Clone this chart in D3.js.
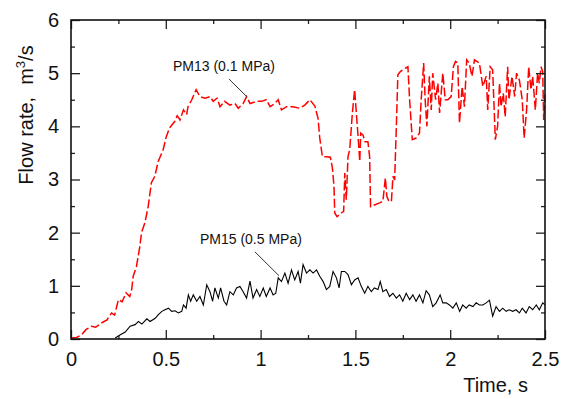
<!DOCTYPE html>
<html>
<head>
<meta charset="utf-8">
<script src="https://cdn.jsdelivr.net/npm/d3@7"></script>
<style>
  html, body { margin: 0; padding: 0; background: #fff; overflow: hidden; }
  svg { display: block; }
  text { font-family: "Liberation Sans", Arial, sans-serif; fill: #111; }
</style>
</head>
<body>
<div id="chart"></div>
<script>
// PM13 (0.1 MPa) - red dashed
var pm13Time = [0, 0.03, 0.056, 0.08, 0.108, 0.13, 0.16, 0.19, 0.214, 0.23, 0.25, 0.27, 0.29, 0.31, 0.32, 0.328,
  0.345, 0.363, 0.372, 0.39, 0.407, 0.424, 0.442, 0.46, 0.486, 0.503, 0.52, 0.547, 0.56, 0.575, 0.593, 0.61,
  0.617, 0.637, 0.66, 0.68, 0.707, 0.733, 0.75, 0.77, 0.786, 0.81, 0.838, 0.865, 0.882, 0.908, 0.926, 0.944,
  0.979, 1.005, 1.03, 1.05, 1.075, 1.093, 1.11, 1.137, 1.17, 1.207, 1.233, 1.26, 1.286, 1.303, 1.312, 1.326,
  1.347, 1.368, 1.379, 1.387, 1.391, 1.403, 1.426, 1.438, 1.444, 1.452, 1.461, 1.47, 1.484, 1.496, 1.505,
  1.514, 1.523, 1.528, 1.54, 1.55, 1.566, 1.575, 1.58, 1.6, 1.628, 1.645, 1.658, 1.666, 1.677, 1.69, 1.698,
  1.707, 1.716, 1.724, 1.737, 1.76, 1.777, 1.786, 1.8, 1.82, 1.838, 1.847, 1.86, 1.868, 1.877, 1.89, 1.9,
  1.908, 1.923, 1.935, 1.944, 1.961, 1.974, 1.987, 2.005, 2.017, 2.028, 2.04, 2.049, 2.063, 2.075, 2.087,
  2.1, 2.115, 2.128, 2.154, 2.172, 2.19, 2.198, 2.211, 2.224, 2.238, 2.25, 2.26, 2.268, 2.28, 2.29, 2.303,
  2.31, 2.326, 2.34, 2.35, 2.365, 2.38, 2.39, 2.403, 2.414, 2.426, 2.435, 2.449, 2.461, 2.47, 2.479, 2.488,
  2.493, 2.5]
var pm13Flow = [0.02, 0.03, 0.08, 0.18, 0.24, 0.22, 0.30, 0.36, 0.49, 0.45, 0.74, 0.70, 0.87, 0.80, 0.93, 1.18,
  1.36, 1.74, 2.0, 2.19, 2.49, 2.94, 3.06, 3.34, 3.56, 3.81, 3.97, 4.09, 4.2, 4.12, 4.31, 4.22,
  4.37, 4.5, 4.69, 4.56, 4.53, 4.56, 4.47, 4.53, 4.37, 4.47, 4.40, 4.43, 4.34, 4.43, 4.56, 4.43,
  4.47, 4.47, 4.5, 4.37, 4.43, 4.5, 4.31, 4.37, 4.37, 4.34, 4.40, 4.5, 4.38, 4.15, 3.78, 3.43,
  3.43, 3.42, 3.21, 2.87, 2.37, 2.30, 2.37, 2.40, 3.12, 2.62, 3.43, 3.56, 4.25, 4.69, 4.25,
  3.81, 3.34, 3.87, 3.84, 3.71, 3.71, 3.43, 2.49, 2.52, 2.56, 2.59, 3.03, 2.68, 2.59, 2.59, 3.06,
  2.99, 4.0, 4.97, 5.03, 5.09, 5.12, 4.5, 3.75, 3.78, 3.87, 4.5, 5.19, 4.5, 4.0, 4.94, 4.31,
  5.0, 4.5, 4.81, 4.25, 5.0, 4.5, 4.5, 4.56, 5.12, 5.22, 5.19, 4.06, 4.75, 4.37, 5.25,
  5.19, 4.94, 5.25, 5.19, 4.75, 4.94, 4.31, 5.12, 5.06, 3.75, 4.0, 4.81, 4.37, 4.62, 4.18, 5.12,
  4.5, 4.94, 4.56, 5.0, 4.87, 4.5, 3.78, 4.31, 5.12, 4.69, 4.94, 4.31, 5.0, 4.81, 5.12, 5.03,
  4.12, 4.6]

// PM15 (0.5 MPa) - black solid
var pm15Time = [0.233, 0.26, 0.286, 0.312, 0.338, 0.356, 0.374, 0.4, 0.417, 0.444, 0.461, 0.479, 0.496, 0.514,
  0.531, 0.549, 0.566, 0.584, 0.593, 0.607, 0.619, 0.631, 0.645, 0.663, 0.68, 0.698, 0.716, 0.733, 0.747,
  0.759, 0.777, 0.789, 0.807, 0.821, 0.838, 0.856, 0.873, 0.891, 0.908, 0.926, 0.944, 0.96, 0.979, 0.996,
  1.014, 1.03, 1.05, 1.066, 1.08, 1.093, 1.11, 1.128, 1.145, 1.163, 1.18, 1.198, 1.21, 1.224, 1.242, 1.26,
  1.277, 1.295, 1.312, 1.33, 1.347, 1.365, 1.382, 1.4, 1.414, 1.426, 1.444, 1.461, 1.479, 1.496, 1.514,
  1.531, 1.549, 1.566, 1.584, 1.6, 1.619, 1.631, 1.645, 1.663, 1.68, 1.698, 1.716, 1.733, 1.75, 1.768,
  1.786, 1.803, 1.82, 1.838, 1.856, 1.873, 1.89, 1.908, 1.926, 1.947, 1.961, 1.979, 1.996, 2.014, 2.032,
  2.05, 2.066, 2.084, 2.1, 2.12, 2.137, 2.154, 2.172, 2.19, 2.207, 2.224, 2.242, 2.26, 2.277, 2.295, 2.31,
  2.33, 2.347, 2.365, 2.38, 2.4, 2.417, 2.435, 2.454, 2.47, 2.488, 2.5]
var pm15Flow = [0.02, 0.08, 0.13, 0.24, 0.27, 0.33, 0.28, 0.38, 0.33, 0.39, 0.46, 0.52, 0.55, 0.58,
  0.52, 0.53, 0.49, 0.52, 0.64, 0.58, 0.83, 0.71, 0.83, 0.71, 0.80, 0.64, 1.02, 0.89, 0.71,
  0.96, 0.77, 0.96, 0.71, 0.64, 0.89, 0.83, 0.96, 0.99, 0.89, 0.77, 1.09, 0.77, 0.93, 0.80,
  0.96, 0.80, 0.96, 0.83, 0.86, 1.15, 1.08, 1.24, 1.05, 1.30, 1.11, 1.27, 1.05, 1.40, 1.24, 1.30,
  1.24, 1.30, 1.18, 1.08, 0.93, 0.99, 1.27, 1.15, 0.96, 1.27, 1.27, 1.21, 1.02, 1.11, 1.15,
  0.99, 0.86, 0.99, 0.89, 0.96, 0.93, 1.08, 0.89, 0.93, 0.80, 0.86, 0.77, 0.83, 0.71, 0.86,
  0.74, 0.83, 0.71, 0.83, 0.68, 0.91, 0.83, 0.61, 0.68, 0.83, 0.68, 0.68, 0.64, 0.58, 0.68,
  0.52, 0.64, 0.58, 0.64, 0.61, 0.68, 0.64, 0.64, 0.68, 0.73, 0.43, 0.61, 0.52, 0.58, 0.52, 0.55,
  0.52, 0.55, 0.49, 0.58, 0.49, 0.61, 0.55, 0.64, 0.55, 0.68, 0.64]

var xTicks = [0, 0.5, 1, 1.5, 2, 2.5]
var xMinor = [0.25, 0.75, 1.25, 1.75, 2.25]
var yTicks = [0, 1, 2, 3, 4, 5, 6]
var yMinor = [0.5, 1.5, 2.5, 3.5, 4.5, 5.5]

var width = 567
var height = 399
var margin = { top: 20, right: 22, bottom: 60, left: 71 }
var innerWidth = width - margin.left - margin.right
var innerHeight = height - margin.top - margin.bottom

var svg = d3.select('#chart').append('svg')
  .attr('width', width)
  .attr('height', height)

var g = svg.append('g')
  .attr('transform', 'translate(' + margin.left + ',' + margin.top + ')')

var x = d3.scaleLinear().domain([0, 2.5]).range([0, innerWidth])
var y = d3.scaleLinear().domain([0, 6]).range([innerHeight, 0])

var line = d3.line()
  .x(d => x(d[0]))
  .y(d => y(d[1]))

var pm13 = pm13Time.map((t, i) => [t, pm13Flow[i]])
var pm15 = pm15Time.map((t, i) => [t, pm15Flow[i]])

g.append('path')
  .datum(pm15)
  .attr('d', line)
  .attr('fill', 'none')
  .attr('stroke', '#000')
  .attr('stroke-width', 1.1)

g.append('path')
  .datum(pm13)
  .attr('d', line)
  .attr('fill', 'none')
  .attr('stroke', '#ff0000')
  .attr('stroke-width', 1.5)
  .attr('stroke-dasharray', '9,3')

// axes: ticks pointing inward, minor ticks shorter
function styleAxis (sel) {
  sel.select('.domain').remove()
  sel.selectAll('.tick line').attr('stroke', '#222').attr('stroke-width', 1.3)
  sel.selectAll('text').style('font-size', '20px').attr('fill', '#111')
}
// ticks only, no labels
function bareAxis (sel) {
  styleAxis(sel)
  sel.selectAll('text').remove()
}

g.append('g').attr('transform', 'translate(0,' + innerHeight + ')')
  .call(d3.axisBottom(x).tickValues(xTicks).tickFormat(d3.format('')).tickSizeInner(-9).tickSizeOuter(0).tickPadding(13))
  .call(styleAxis)
g.append('g').attr('transform', 'translate(0,' + innerHeight + ')')
  .call(d3.axisBottom(x).tickValues(xMinor).tickSizeInner(-4).tickSizeOuter(0))
  .call(bareAxis)
g.append('g')
  .call(d3.axisTop(x).tickValues(xTicks).tickSizeInner(-9).tickSizeOuter(0))
  .call(bareAxis)
g.append('g')
  .call(d3.axisTop(x).tickValues(xMinor).tickSizeInner(-4).tickSizeOuter(0))
  .call(bareAxis)

g.append('g')
  .call(d3.axisLeft(y).tickValues(yTicks).tickFormat(d3.format('')).tickSizeInner(-9).tickSizeOuter(0).tickPadding(12))
  .call(styleAxis)
g.append('g')
  .call(d3.axisLeft(y).tickValues(yMinor).tickSizeInner(-4).tickSizeOuter(0))
  .call(bareAxis)
g.append('g').attr('transform', 'translate(' + innerWidth + ',0)')
  .call(d3.axisRight(y).tickValues(yTicks).tickSizeInner(-9).tickSizeOuter(0))
  .call(bareAxis)
g.append('g').attr('transform', 'translate(' + innerWidth + ',0)')
  .call(d3.axisRight(y).tickValues(yMinor).tickSizeInner(-4).tickSizeOuter(0))
  .call(bareAxis)

// frame
g.append('rect')
  .attr('width', innerWidth)
  .attr('height', innerHeight)
  .attr('fill', 'none')
  .attr('stroke', '#111')
  .attr('stroke-width', 1.6)

// axis titles
svg.append('text')
  .attr('x', 528)
  .attr('y', 392)
  .attr('text-anchor', 'end')
  .style('font-size', '20px')
  .text('Time, s')

var yTitle = svg.append('text')
  .attr('transform', 'translate(33,115) rotate(-90)')
  .attr('text-anchor', 'middle')
  .style('font-size', '20px')
yTitle.append('tspan').text('Flow rate,')
yTitle.append('tspan').attr('dx', 12).text('m')
yTitle.append('tspan').attr('dy', -8).style('font-size', '13px').text('3')
yTitle.append('tspan').attr('dy', 8).text('/s')

// annotations
g.append('text')
  .attr('x', x(0.538))
  .attr('y', y(5.04))
  .style('font-size', '14px')
  .text('PM13 (0.1 MPa)')
g.append('line')
  .attr('x1', x(0.833)).attr('y1', y(4.89))
  .attr('x2', x(0.928)).attr('y2', y(4.555))
  .attr('stroke', '#333').attr('stroke-width', 1)

g.append('text')
  .attr('x', x(0.68))
  .attr('y', y(1.79))
  .style('font-size', '14px')
  .text('PM15 (0.5 MPa)')
g.append('line')
  .attr('x1', x(0.97)).attr('y1', y(1.64))
  .attr('x2', x(1.097)).attr('y2', y(1.19))
  .attr('stroke', '#333').attr('stroke-width', 1)
</script>
</body>
</html>
